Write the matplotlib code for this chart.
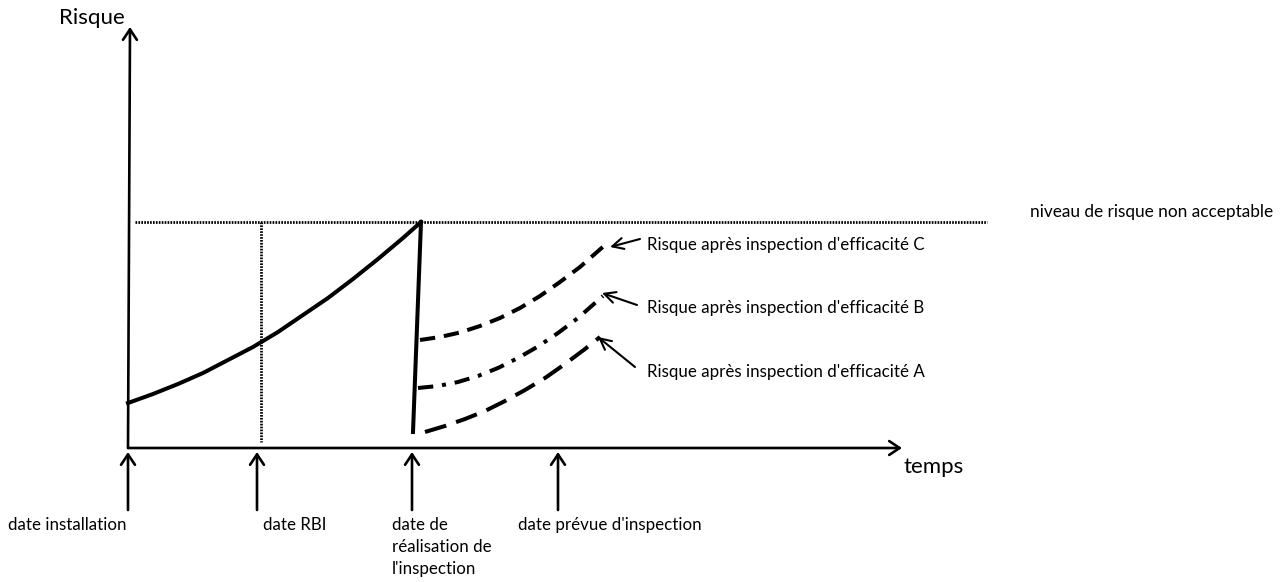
import matplotlib.pyplot as plt

# schematic values (time / risk units, origin at the axes corner)
risk_before_t = [0, 25, 50, 75, 100, 125, 150, 175, 200, 225, 250, 275, 293]
risk_before_r = [45, 54, 64, 75, 88, 101, 116, 133, 150, 169, 189, 210, 226]

drop_t = [293, 285]
drop_r = [226, 16]

eff_C_t = [292, 312, 332, 352, 372, 392, 412, 432, 452, 477]
eff_C_r = [108, 111, 115.5, 122, 130, 140, 152, 166, 181, 203]
eff_B_t = [290, 310, 330, 350, 370, 390, 410, 430, 450, 475]
eff_B_r = [60, 62, 66, 72, 80, 90, 101.5, 115, 130, 152]
eff_A_t = [297, 317, 337, 357, 377, 397, 417, 437, 457, 472]
eff_A_r = [16, 22, 29, 37, 47, 58, 70, 84, 99, 111]

risk_limit = 226
date_rbi = 133
date_ticks = [0, 129, 284, 430]
date_labels = ["date installation", "date RBI",
               "date de\nréalisation de\nl'inspection", "date prévue d'inspection"]
eff_labels = ["Risque après inspection d'efficacité C",
              "Risque après inspection d'efficacité B",
              "Risque après inspection d'efficacité A"]

plt.rcParams['font.family'] = ['Lato', 'DejaVu Sans']

fig = plt.figure(figsize=(12.85, 5.82), dpi=100)
ax = fig.add_axes([0, 0, 1, 1])
ax.set_xlim(-128, 1157)
ax.set_ylim(-134, 448)
ax.axis("off")

arrow = dict(arrowstyle="->,head_length=0.75,head_width=0.5", lw=1.9, color="black",
             shrinkA=0, shrinkB=0)

# axes
ax.annotate("", xy=(2, 421), xytext=(0, 0), arrowprops=arrow)
ax.annotate("", xy=(774, 0), xytext=(0, 0), arrowprops=arrow)
ax.text(-3, 430, "Risque", ha="right", va="center", fontsize=16)
ax.text(775, -19, "temps", ha="left", va="center", fontsize=16)

# acceptable level
ax.plot([7, 859], [risk_limit, risk_limit], color="black", lw=2.0, ls=(0, (0.6, 0.45)))
ax.plot([date_rbi, date_rbi], [risk_limit, 6], color="black", lw=2.0, ls=(0, (0.6, 0.45)))
ax.text(902, risk_limit + 10, "niveau de risque non acceptable", ha="left", va="center",
        fontsize=12.4)

# risk curves
ax.plot(risk_before_t, risk_before_r, color="black", lw=2.9, solid_joinstyle="round")
ax.plot(drop_t, drop_r, color="black", lw=2.9)
ax.plot(eff_C_t, eff_C_r, color="black", lw=2.9, ls=(0, (3.8, 2.2)))
ax.plot(eff_B_t, eff_B_r, color="black", lw=2.9, ls=(0, (3.8, 2.2, 1, 2.2)))
ax.plot(eff_A_t, eff_A_r, color="black", lw=2.9, ls=(0, (5.5, 2.6)))

# labels of the inspection curves
label_r = [203, 140, 76]
ends = [(eff_C_t[-1] + 5, eff_C_r[-1] - 2), (eff_B_t[-1] - 1, eff_B_r[-1] + 3),
        (eff_A_t[-1] - 2, eff_A_r[-1])]
tails = [(512, 209), (509, 143), (507, 81)]
small_arrow = dict(arrowstyle="->,head_length=0.8,head_width=0.4", lw=1.5, color="black",
                   shrinkA=0, shrinkB=0)
for lab, r, end, tail in zip(eff_labels, label_r, ends, tails):
    ax.annotate("", xy=end, xytext=tail, arrowprops=small_arrow)
    ax.text(519, r, lab, ha="left", va="center", fontsize=12.2)

# date arrows below the time axis
label_x = [-120, 135, 264, 390]
for t, lab, lx in zip(date_ticks, date_labels, label_x):
    ax.annotate("", xy=(t, -4), xytext=(t, -62), arrowprops=arrow)
    ax.text(lx, -69, lab, ha="left", va="top", fontsize=12.2, linespacing=1.45)

fig.savefig("out.png", dpi=100)
